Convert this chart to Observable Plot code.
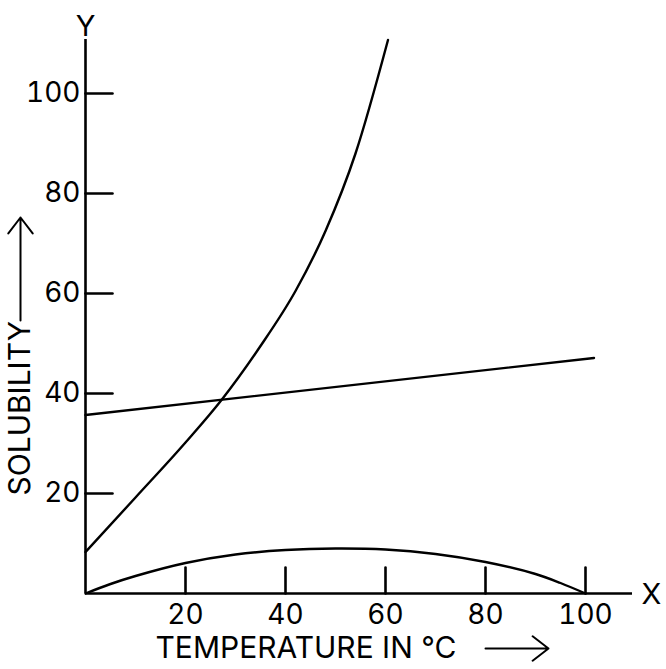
<!DOCTYPE html>
<html>
<head>
<meta charset="utf-8">
<script src="https://cdn.jsdelivr.net/npm/d3@7"></script>
<script src="https://cdn.jsdelivr.net/npm/@observablehq/plot@0.6"></script>
<style>
  html, body { margin: 0; padding: 0; background: #fff; }
</style>
</head>
<body>
<div id="chart"></div>
<script>
// Tick values
const xTicks = [20, 40, 60, 80, 100];
const yTicks = [20, 40, 60, 80, 100];

// Steep curve (solubility rising sharply)
const steepX = [0, 10, 20, 27.2, 35, 42, 48, 54, 60.5];
const steepY = [8.3, 19.2, 30.2, 38.7, 49.5, 60.5, 72.5, 88, 110.7];

// Nearly flat straight line
const flatX = [0, 101.7];
const flatY = [35.7, 47.1];

// Arch curve (rises then falls)
const archX = [0, 5, 10, 20, 30, 40, 50, 60, 70, 80, 90, 95, 100];
const archY = [0, 1.9, 3.5, 6.1, 7.8, 8.7, 9.0, 8.8, 7.9, 6.3, 3.9, 2.1, 0];

const xLabel = "TEMPERATURE IN °C";
const yLabel = "SOLUBILITY";

const toRows = (xs, ys) => xs.map((x, i) => ({x, y: ys[i]}));
const steep = toRows(steepX, steepY);
const flat = toRows(flatX, flatY);
const arch = toRows(archX, archY);

const font = "Inter, 'Noto Sans', sans-serif";
const tickShape = {draw(c, l) { c.moveTo(0, 0); c.lineTo(0, -l); }};

const chart = Plot.plot({
  width: 666,
  height: 669,
  marginLeft: 85,
  marginRight: 34,
  marginTop: 39,
  marginBottom: 76,
  style: {fontFamily: font, fontSize: "28px", color: "#000", background: "#fff"},
  x: {domain: [0, 109.4]},
  y: {domain: [0, 110.8]},
  marks: [
    // axes lines
    Plot.ruleX([0], {stroke: "#000", strokeWidth: 2.6}),
    Plot.ruleY([0], {stroke: "#000", strokeWidth: 2.6}),
    // inward ticks
    Plot.vector(yTicks, {x: 0, y: d => d, length: 27, rotate: 90, anchor: "start", stroke: "#000", strokeWidth: 2.6, shape: tickShape}),
    Plot.vector(xTicks, {x: d => d, y: 0, length: 26, rotate: 0, anchor: "start", stroke: "#000", strokeWidth: 2.6, shape: tickShape}),
    // tick labels
    Plot.axisY(yTicks, {tickSize: 0, tickPadding: 5, fontSize: 28, label: null}),
    Plot.axisX(xTicks, {tickSize: 0, tickPadding: 11, fontSize: 28, label: null}),
    // curves
    Plot.line(steep, {x: "x", y: "y", curve: "monotone-x", stroke: "#000", strokeWidth: 2.4}),
    Plot.line(flat, {x: "x", y: "y", stroke: "#000", strokeWidth: 2.4}),
    Plot.line(arch, {x: "x", y: "y", curve: "catmull-rom", stroke: "#000", strokeWidth: 2.4}),
    // axis letters
    Plot.text(["Y"], {frameAnchor: "top-left", dy: -13, fontSize: 29, lineAnchor: "middle", textAnchor: "middle"}),
    Plot.text(["X"], {frameAnchor: "bottom-right", dx: 19, dy: 1, fontSize: 29, lineAnchor: "middle", textAnchor: "middle"}),
    // axis titles
    Plot.text([xLabel], {frameAnchor: "bottom-left", dx: 70, dy: 55, fontSize: 30, lineAnchor: "middle", textAnchor: "start"}),
    Plot.arrow([xLabel], {x1: 80, x2: 92.6, y1: -11, y2: -11, stroke: "#000", strokeWidth: 2, headLength: 15, headAngle: 75}),
    Plot.text([yLabel], {frameAnchor: "bottom-left", dx: -65, dy: -98, rotate: -90, fontSize: 30, lineAnchor: "middle", textAnchor: "start"}),
    Plot.arrow([yLabel], {x1: -13, x2: -13, y1: 54.6, y2: 75.2, stroke: "#000", strokeWidth: 2, headLength: 15, headAngle: 75})
  ]
});
document.getElementById("chart").appendChild(chart);
</script>
</body>
</html>
